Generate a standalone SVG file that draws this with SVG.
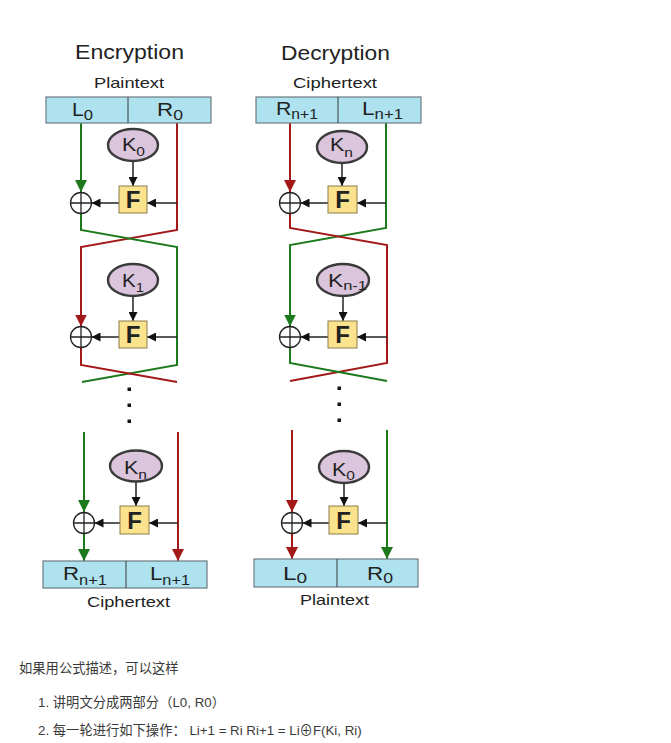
<svg xmlns="http://www.w3.org/2000/svg" width="671" height="743" viewBox="0 0 671 743">
<defs>
<style>
.t{font-family:"Liberation Sans",Arial,sans-serif;fill:#222}
.title{font-size:20px}
.cap{font-size:15px}
.lbl{font-size:19px}
.sub{font-size:15px}
.subs{font-size:14px}
.kl{font-size:18px}
.ks{font-size:13px}
.f{font-size:24px;font-weight:bold;text-anchor:middle}
.box{fill:#aee2ee;stroke:#6c7b80;stroke-width:1.2}
.div{stroke:#4a5558;stroke-width:1.2}
.key{fill:#dbc5dc;stroke:#3a3a3a;stroke-width:2.4}
.fb{fill:#fbe28c;stroke:#8c7c4c;stroke-width:1}
.xor{fill:none;stroke:#222;stroke-width:1.3}
.g{fill:none;stroke:#1c7a1c;stroke-width:2}
.r{fill:none;stroke:#a31818;stroke-width:2}
.k{fill:none;stroke:#222;stroke-width:1.5}
.txt{font-family:"Liberation Sans","Noto Sans CJK SC",sans-serif;font-size:13.3px;fill:#3a3a3a}
</style>
<marker id="ag" markerUnits="userSpaceOnUse" markerWidth="12" markerHeight="12" refX="12" refY="6" orient="auto"><path d="M0 0L12 6L0 12Z" fill="#1c7a1c"/></marker>
<marker id="ar" markerUnits="userSpaceOnUse" markerWidth="12" markerHeight="12" refX="12" refY="6" orient="auto"><path d="M0 0L12 6L0 12Z" fill="#a31818"/></marker>
<marker id="ak" markerUnits="userSpaceOnUse" markerWidth="9" markerHeight="9" refX="9" refY="4.5" orient="auto"><path d="M0 0L9 4.5L0 9Z" fill="#111"/></marker>
</defs>
<rect width="671" height="743" fill="#fff"/>

<text class="t title" x="75" y="59" textLength="109" lengthAdjust="spacingAndGlyphs">Encryption</text>
<text class="t title" x="281" y="60" textLength="109" lengthAdjust="spacingAndGlyphs">Decryption</text>
<text class="t cap" x="94" y="88" textLength="70" lengthAdjust="spacingAndGlyphs">Plaintext</text>
<text class="t cap" x="293" y="88" textLength="84" lengthAdjust="spacingAndGlyphs">Ciphertext</text>
<text class="t cap" x="87" y="607" textLength="83" lengthAdjust="spacingAndGlyphs">Ciphertext</text>
<text class="t cap" x="300" y="605" textLength="69" lengthAdjust="spacingAndGlyphs">Plaintext</text>

<g id="connectors">
<path class="g" d="M81 123V192" marker-end="url(#ag)"/>
<path class="r" d="M177 123V230L81 247V326.5" marker-end="url(#ar)"/>
<path class="g" d="M81 213.5V230L177 247V365L82 382"/>
<path class="r" d="M81 347.5V365L177 382"/>
<path class="k" d="M133 161V186" marker-end="url(#ak)"/>
<path class="k" d="M177 203H147" marker-end="url(#ak)"/>
<path class="k" d="M119 203H91.5" marker-end="url(#ak)"/>
<path class="k" d="M133 296V321" marker-end="url(#ak)"/>
<path class="k" d="M177 337H147" marker-end="url(#ak)"/>
<path class="k" d="M119 337H91.5" marker-end="url(#ak)"/>
<path class="g" d="M84 432V512" marker-end="url(#ag)"/>
<path class="g" d="M84 533.5V561" marker-end="url(#ag)"/>
<path class="r" d="M178 432V561" marker-end="url(#ar)"/>
<path class="k" d="M136 480V506" marker-end="url(#ak)"/>
<path class="k" d="M178 523H149" marker-end="url(#ak)"/>
<path class="k" d="M120 523H94.5" marker-end="url(#ak)"/>

<path class="r" d="M290 123V192" marker-end="url(#ar)"/>
<path class="g" d="M386 123V228L290 245V326.5" marker-end="url(#ag)"/>
<path class="r" d="M290 213.5V228L387 245V363L290 381"/>
<path class="g" d="M290 347.5V363L387 381"/>
<path class="k" d="M342 163V186" marker-end="url(#ak)"/>
<path class="k" d="M386 203H357" marker-end="url(#ak)"/>
<path class="k" d="M328 203H300.5" marker-end="url(#ak)"/>
<path class="k" d="M343 296V321" marker-end="url(#ak)"/>
<path class="k" d="M387 337H357" marker-end="url(#ak)"/>
<path class="k" d="M328 337H300.5" marker-end="url(#ak)"/>
<path class="r" d="M292 430V512" marker-end="url(#ar)"/>
<path class="r" d="M292 533.5V559" marker-end="url(#ar)"/>
<path class="g" d="M387 430V559" marker-end="url(#ag)"/>
<path class="k" d="M344 483V506" marker-end="url(#ak)"/>
<path class="k" d="M387 523H358" marker-end="url(#ak)"/>
<path class="k" d="M329 523H302.5" marker-end="url(#ak)"/>
</g>

<g id="dots" fill="#111">
<rect x="127.5" y="387.5" width="3.5" height="3.5"/>
<rect x="127.5" y="403.5" width="3.5" height="3.5"/>
<rect x="127.5" y="419.5" width="3.5" height="3.5"/>
<rect x="337.5" y="386.5" width="3.5" height="3.5"/>
<rect x="337.5" y="402.5" width="3.5" height="3.5"/>
<rect x="337.5" y="418.5" width="3.5" height="3.5"/>
</g>

<g id="enc-plain">
<rect class="box" x="46" y="97" width="165" height="26"/>
<line class="div" x1="128" y1="97" x2="128" y2="123"/>
<text class="t lbl" x="72" y="116" textLength="21" lengthAdjust="spacingAndGlyphs">L<tspan class="sub" dy="4">0</tspan></text>
<text class="t lbl" x="157" y="116" textLength="26" lengthAdjust="spacingAndGlyphs">R<tspan class="sub" dy="4">0</tspan></text>
</g>
<g id="enc-k0"><ellipse class="key" cx="133" cy="145" rx="25" ry="16"/>
<text class="t kl" x="122" y="151" textLength="23" lengthAdjust="spacingAndGlyphs">K<tspan class="ks" dy="5">0</tspan></text></g>
<g id="enc-f1"><rect class="fb" x="119" y="186" width="28" height="27"/><text class="t f" x="133" y="208">F</text></g>
<g id="enc-x1"><circle class="xor" cx="81" cy="203" r="10.5"/><path class="xor" d="M70.5 203H91.5M81 192.5V213.5"/></g>

<g id="enc-k1"><ellipse class="key" cx="133" cy="280" rx="25" ry="16"/>
<text class="t kl" x="122" y="287" textLength="22" lengthAdjust="spacingAndGlyphs">K<tspan class="ks" dy="5">1</tspan></text></g>
<g id="enc-f2"><rect class="fb" x="119" y="321" width="28" height="27"/><text class="t f" x="133" y="343">F</text></g>
<g id="enc-x2"><circle class="xor" cx="81" cy="337" r="10.5"/><path class="xor" d="M70.5 337H91.5M81 326.5V347.5"/></g>

<g id="enc-kn"><ellipse class="key" cx="136" cy="466" rx="26" ry="15.5"/>
<text class="t kl" x="124" y="474" textLength="23" lengthAdjust="spacingAndGlyphs">K<tspan class="ks" dy="5">n</tspan></text></g>
<g id="enc-fn"><rect class="fb" x="120" y="506" width="29" height="28"/><text class="t f" x="134.5" y="529">F</text></g>
<g id="enc-xn"><circle class="xor" cx="84" cy="523" r="10.5"/><path class="xor" d="M73.5 523H94.5M84 512.5V533.5"/></g>

<g id="enc-cipher">
<rect class="box" x="43" y="561" width="164" height="27"/>
<line class="div" x1="126" y1="561" x2="126" y2="588"/>
<text class="t lbl" x="63" y="580" textLength="44" lengthAdjust="spacingAndGlyphs">R<tspan class="subs" dy="5">n+1</tspan></text>
<text class="t lbl" x="150" y="580" textLength="40" lengthAdjust="spacingAndGlyphs">L<tspan class="subs" dy="5">n+1</tspan></text>
</g>

<g id="dec-cipher">
<rect class="box" x="256" y="97" width="165" height="26"/>
<line class="div" x1="338" y1="97" x2="338" y2="123"/>
<text class="t lbl" x="276" y="115" textLength="42" lengthAdjust="spacingAndGlyphs">R<tspan class="subs" dy="4">n+1</tspan></text>
<text class="t lbl" x="362" y="115" textLength="41" lengthAdjust="spacingAndGlyphs">L<tspan class="subs" dy="4">n+1</tspan></text>
</g>
<g id="dec-kn"><ellipse class="key" cx="342" cy="147" rx="25" ry="16"/>
<text class="t kl" x="330" y="151" textLength="23" lengthAdjust="spacingAndGlyphs">K<tspan class="ks" dy="6">n</tspan></text></g>
<g id="dec-f1"><rect class="fb" x="328" y="186" width="29" height="27"/><text class="t f" x="342.5" y="208">F</text></g>
<g id="dec-x1"><circle class="xor" cx="290" cy="203" r="10.5"/><path class="xor" d="M279.5 203H300.5M290 192.5V213.5"/></g>

<g id="dec-kn1"><ellipse class="key" cx="343" cy="280" rx="26" ry="16"/>
<text class="t kl" x="328" y="287" textLength="39" lengthAdjust="spacingAndGlyphs">K<tspan class="ks" dy="3">n-1</tspan></text></g>
<g id="dec-f2"><rect class="fb" x="328" y="321" width="29" height="27"/><text class="t f" x="342.5" y="343">F</text></g>
<g id="dec-x2"><circle class="xor" cx="290" cy="337" r="10.5"/><path class="xor" d="M279.5 337H300.5M290 326.5V347.5"/></g>

<g id="dec-k0"><ellipse class="key" cx="344" cy="467" rx="25" ry="16"/>
<text class="t kl" x="332" y="476" textLength="23" lengthAdjust="spacingAndGlyphs">K<tspan class="ks" dy="4">0</tspan></text></g>
<g id="dec-fn"><rect class="fb" x="329" y="506" width="29" height="28"/><text class="t f" x="343.5" y="529">F</text></g>
<g id="dec-xn"><circle class="xor" cx="292" cy="523" r="10.5"/><path class="xor" d="M281.5 523H302.5M292 512.5V533.5"/></g>

<g id="dec-plain">
<rect class="box" x="254" y="559" width="164" height="28"/>
<line class="div" x1="337" y1="559" x2="337" y2="587"/>
<text class="t lbl" x="283" y="580" textLength="24" lengthAdjust="spacingAndGlyphs">L<tspan class="sub" dy="3">0</tspan></text>
<text class="t lbl" x="367" y="580" textLength="26" lengthAdjust="spacingAndGlyphs">R<tspan class="sub" dy="3">0</tspan></text>
</g>

<text class="txt" x="19" y="673">如果用公式描述，可以这样</text>
<text class="txt" x="38" y="707">1. 讲明文分成两部分（L0, R0）</text>
<text class="txt" x="38" y="735">2. 每一轮进行如下操作： Li+1 = Ri Ri+1 = Li⊕F(Ki, Ri)</text>
</svg>
